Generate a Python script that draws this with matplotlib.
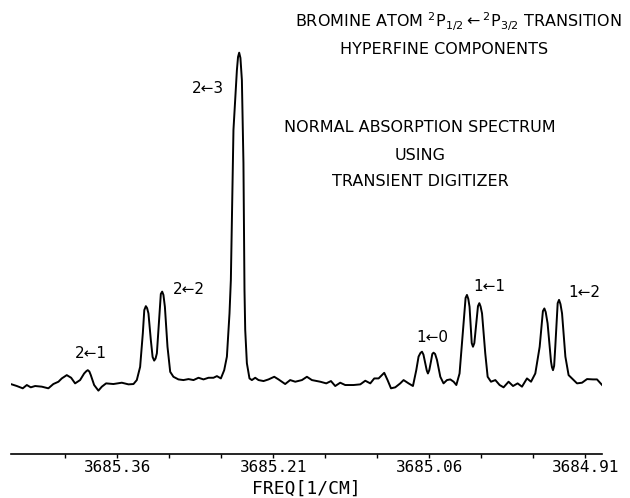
import matplotlib
matplotlib.use("Agg")
import matplotlib.pyplot as plt

# spectrum trace (freq in 1/cm, absorption in arbitrary units)
FREQ = [
    3685.4613, 3685.4564, 3685.4507, 3685.4468, 3685.4430, 3685.4388, 3685.4324,
    3685.4261, 3685.4213, 3685.4164, 3685.4132, 3685.4084, 3685.4042, 3685.4004,
    3685.3956, 3685.3917, 3685.3882, 3685.3853, 3685.3821, 3685.3780, 3685.3747,
    3685.3706, 3685.3636, 3685.3555, 3685.3491, 3685.3443, 3685.3411, 3685.3379,
    3685.3353, 3685.3324, 3685.3299, 3685.3276, 3685.3244, 3685.3218, 3685.3193,
    3685.3167, 3685.3141, 3685.3116, 3685.3090, 3685.3059, 3685.3011, 3685.2963,
    3685.2914, 3685.2866, 3685.2818, 3685.2770, 3685.2722, 3685.2674, 3685.2641,
    3685.2603, 3685.2571, 3685.2545, 3685.2520, 3685.2507, 3685.2482, 3685.2449,
    3685.2427, 3685.2401, 3685.2386, 3685.2376, 3685.2369, 3685.2353, 3685.2328,
    3685.2305, 3685.2273, 3685.2241, 3685.2193, 3685.2145, 3685.2090, 3685.2049,
    3685.1985, 3685.1937, 3685.1888, 3685.1824, 3685.1776, 3685.1728, 3685.1648,
    3685.1590, 3685.1545, 3685.1504, 3685.1456, 3685.1408, 3685.1328, 3685.1263,
    3685.1215, 3685.1167, 3685.1129, 3685.1087, 3685.1033, 3685.1001, 3685.0968,
    3685.0927, 3685.0879, 3685.0847, 3685.0799, 3685.0757, 3685.0725, 3685.0703,
    3685.0670, 3685.0639, 3685.0613, 3685.0584, 3685.0559, 3685.0526, 3685.0494,
    3685.0463, 3685.0430, 3685.0398, 3685.0366, 3685.0340, 3685.0309, 3685.0276,
    3685.0238, 3685.0213, 3685.0180, 3685.0148, 3685.0119, 3685.0093, 3685.0062,
    3685.0039, 3685.0007, 3684.9965, 3684.9924, 3684.9886, 3684.9838, 3684.9795,
    3684.9751, 3684.9709, 3684.9661, 3684.9622, 3684.9581, 3684.9539, 3684.9494,
    3684.9463, 3684.9430, 3684.9411, 3684.9389, 3684.9353, 3684.9324, 3684.9292,
    3684.9261, 3684.9228, 3684.9180, 3684.9132, 3684.9084, 3684.9026, 3684.8988,
    3684.8939,
]
ABSORB = [
    -0.004, -0.009, -0.016, -0.006, -0.013, -0.009, -0.011,
    -0.016, -0.003, 0.004, 0.014, 0.024, 0.016, -0.001,
    0.009, 0.029, 0.039, 0.024, -0.006, -0.023, -0.011,
    -0.001, -0.003, 0.001, -0.004, -0.003, 0.009, 0.049,
    0.151, 0.233, 0.211, 0.130, 0.068, 0.090, 0.211,
    0.277, 0.231, 0.110, 0.034, 0.019, 0.011, 0.009,
    0.012, 0.009, 0.016, 0.011, 0.016, 0.016, 0.021,
    0.014, 0.039, 0.080, 0.211, 0.312, 0.767, 0.948,
    1.001, 0.918, 0.667, 0.282, 0.161, 0.060, 0.014,
    0.009, 0.016, 0.009, 0.006, 0.011, 0.019, 0.011,
    -0.003, 0.009, 0.004, 0.009, 0.019, 0.009, 0.004,
    -0.001, 0.006, -0.009, 0.001, -0.006, -0.006, -0.004,
    0.007, -0.001, 0.014, 0.014, 0.031, 0.009, -0.016,
    -0.013, -0.001, 0.009, -0.001, -0.009, 0.039, 0.080,
    0.095, 0.060, 0.029, 0.065, 0.092, 0.070, 0.019,
    -0.001, 0.009, 0.011, 0.004, -0.006, 0.029, 0.161,
    0.267, 0.231, 0.110, 0.181, 0.242, 0.211, 0.090,
    0.019, 0.004, 0.009, -0.006, -0.013, 0.004, -0.009,
    -0.001, -0.011, 0.014, 0.004, 0.029, 0.110, 0.226,
    0.181, 0.065, 0.039, 0.110, 0.252, 0.211, 0.080,
    0.024, 0.014, -0.001, 0.001, 0.012, 0.011, 0.011,
    -0.006,
]

# extra readings around the peak tops and valleys
FREQ_TOPS = [
    3685.3896, 3685.3867, 3685.3339, 3685.3312, 3685.3259, 3685.3231,
    3685.3180, 3685.3155, 3685.2438, 3685.2415, 3685.0685, 3685.0656,
    3685.0624, 3685.0600, 3685.0571, 3685.0544, 3685.0251, 3685.0225,
    3685.0192, 3685.0167, 3685.0132, 3685.0107, 3684.9508, 3684.9481,
    3684.9421, 3684.9400, 3684.9366, 3684.9339,
]
ABSORB_TOPS = [
    0.036, 0.035, 0.221, 0.227, 0.079, 0.074,
    0.270, 0.267, 0.988, 0.985, 0.091, 0.086,
    0.038, 0.039, 0.088, 0.088, 0.258, 0.255,
    0.121, 0.121, 0.233, 0.232, 0.218, 0.215,
    0.048, 0.052, 0.242, 0.239,
]

# hyperfine component labels
PEAK_NAMES = ["2\u21901", "2\u21902", "2\u21903", "1\u21900", "1\u21901", "1\u21902"]
PEAK_FREQ = [3685.3855, 3685.2908, 3685.2725, 3685.0571, 3685.0023, 3684.9110]
PEAK_TEXT_Y = [0.088, 0.282, 0.891, 0.139, 0.294, 0.273]

MAJOR_TICKS = [3685.36, 3685.21, 3685.06, 3684.91]
MINOR_TICKS = [3685.41, 3685.31, 3685.26, 3685.16, 3685.11, 3685.01, 3684.96]

trace = sorted(zip(FREQ + FREQ_TOPS, ABSORB + ABSORB_TOPS), reverse=True)
xs = [p[0] for p in trace]
ys = [p[1] for p in trace]

fig = plt.figure(figsize=(6.3, 4.98), dpi=100)
ax = fig.add_axes([11 / 630, 44 / 498, 591 / 630, 434 / 498])

ax.plot(xs, ys, color="black", linewidth=1.4, solid_joinstyle="round")
ax.set_xlim(3685.462, 3684.894)
ax.set_ylim(-0.215, 1.1)

for name, f, y in zip(PEAK_NAMES, PEAK_FREQ, PEAK_TEXT_Y):
    ax.text(f, y, name, ha="center", va="center", fontsize=11)

for s in ["top", "left", "right"]:
    ax.spines[s].set_visible(False)
ax.spines["bottom"].set_linewidth(1.2)
ax.set_yticks([])
ax.set_xticks(MAJOR_TICKS)
ax.set_xticklabels([f"{t:.2f}" for t in MAJOR_TICKS], family="DejaVu Sans Mono", fontsize=11.5)
ax.set_xticks(MINOR_TICKS, minor=True)
ax.tick_params(axis="x", which="major", direction="out", length=3, width=1, pad=1)
ax.tick_params(axis="x", which="minor", direction="out", length=3, width=1)
ax.set_xlabel("FREQ[1/CM]", family="DejaVu Sans Mono", fontsize=13, labelpad=4)

# title block
tk = dict(ha="center", va="center", fontsize=11.5)
fig.text(458 / 630, 1 - 22 / 498,
         r"BROMINE ATOM $^{2}$P$_{1/2}$$\leftarrow$$^{2}$P$_{3/2}$ TRANSITION", **tk)
fig.text(444 / 630, 1 - 49 / 498, "HYPERFINE COMPONENTS", **tk)
fig.text(420 / 630, 1 - 128 / 498, "NORMAL ABSORPTION SPECTRUM", **tk)
fig.text(420 / 630, 1 - 155 / 498, "USING", **tk)
fig.text(420 / 630, 1 - 182 / 498, "TRANSIENT DIGITIZER", **tk)

fig.savefig("out.png", dpi=100, facecolor="white")
